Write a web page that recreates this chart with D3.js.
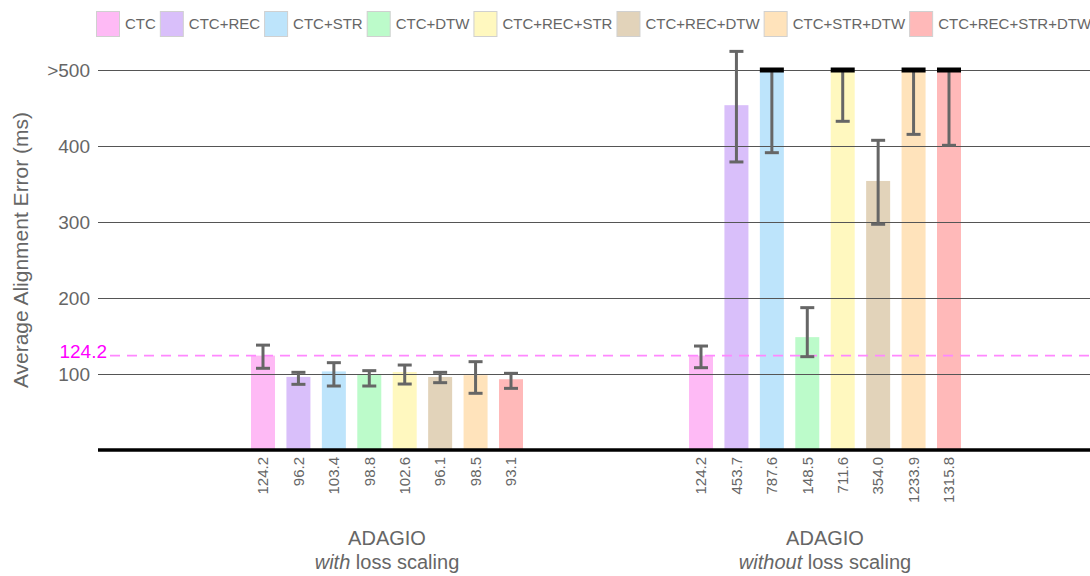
<!DOCTYPE html>
<html><head><meta charset="utf-8">
<script src="https://cdn.jsdelivr.net/npm/d3@7"></script>
<style>
html,body{margin:0;padding:0;background:#fff;}
svg{display:block;font-family:"Liberation Sans",Arial,sans-serif;}
</style></head>
<body><svg id="c" width="1090" height="576"></svg>
<script>
const methods = ["CTC","CTC+REC","CTC+STR","CTC+DTW","CTC+REC+STR","CTC+REC+DTW","CTC+STR+DTW","CTC+REC+STR+DTW"];
const colors = ["#FEBAF5","#D9BFFA","#BDE4FB","#BCFBCA","#FFF8BF","#E2D3BA","#FFE3BB","#FFB9B9"];
const groups = ["with","without"];
const groupTitle = ["ADAGIO","ADAGIO"];
const groupItalic = ["with","without"];
const groupRest = [" loss scaling"," loss scaling"];
const meansWith = [124.2, 96.2, 103.4, 98.8, 102.6, 96.1, 98.5, 93.1];
const lowWith   = [107.5, 86.4, 84.2, 84.2, 86.8, 88.6, 74.6, 81.1];
const highWith  = [138.0, 102.2, 114.9, 104.4, 111.8, 102.2, 116.2, 100.9];
const meansWithout = [124.2, 453.7, 787.6, 148.5, 711.6, 354.0, 1233.9, 1315.8];
const lowWithout   = [108.3, 379.0, 391.2, 122.8, 432.5, 297.0, 415.3, 400.9];
const highWithout  = [136.8, 524.5, 1184.0, 187.3, 990.7, 407.5, 2052.5, 2230.7];
const yTicks = [100, 200, 300, 400, 500];
const yTickLabels = ["100","200","300","400",">500"];
const refValue = 124.2;
const capValue = 500;

const svg = d3.select("#c");
const grey = "#666";
const left = 98, right = 1090;

const y = d3.scaleLinear().domain([0, 500]).range([450, 70]);
const xg = d3.scalePoint().domain(groups).range([387, 825]);
const xb = d3.scaleBand().domain(methods).range([-136, 136]).paddingInner(0.3226).paddingOuter(0);

const data = [];
groups.forEach((g, gi) => {
  const m = gi === 0 ? meansWith : meansWithout;
  const lo = gi === 0 ? lowWith : lowWithout;
  const hi = gi === 0 ? highWith : highWithout;
  methods.forEach((k, i) => data.push({g, k, i, mean: m[i], lo: lo[i], hi: hi[i]}));
});
const bx = d => xg(d.g) + xb(d.k);
const cx = d => bx(d) + xb.bandwidth() / 2;

// bars
svg.append("g").selectAll("rect").data(data).join("rect")
  .attr("x", bx).attr("width", xb.bandwidth())
  .attr("y", d => y(Math.min(d.mean, capValue)))
  .attr("height", d => y(0) - y(Math.min(d.mean, capValue)))
  .attr("fill", d => colors[d.i]);

// gridlines
svg.append("g").selectAll("line").data(yTicks).join("line")
  .attr("x1", left).attr("x2", right)
  .attr("y1", d => Math.round(y(d)) + 0.5).attr("y2", d => Math.round(y(d)) + 0.5)
  .attr("stroke", "#555").attr("stroke-width", 1);

// y tick labels
svg.append("g").selectAll("text").data(yTicks).join("text")
  .attr("x", 90).attr("y", d => y(d)).attr("dy", "0.35em")
  .attr("text-anchor", "end").attr("font-size", 19).attr("fill", grey)
  .text((d, i) => yTickLabels[i]);

// reference line
svg.append("line").attr("x1", 110).attr("x2", right)
  .attr("y1", y(refValue)).attr("y2", y(refValue))
  .attr("stroke", "#FF88FF").attr("stroke-width", 1.6).attr("stroke-dasharray", "10,7");
svg.append("text").attr("x", 107).attr("y", y(refValue)).attr("dy", "0.1em")
  .attr("text-anchor", "end").attr("font-size", 19).attr("fill", "#FF00FF")
  .text(refValue.toFixed(1));

// error bars
const eb = svg.append("g").attr("stroke", grey).attr("stroke-width", 3);
data.forEach(d => {
  const clipped = d.mean > capValue;
  const top = clipped ? Math.min(d.hi, capValue) : d.hi;
  const c = cx(d);
  eb.append("line").attr("x1", c).attr("x2", c).attr("y1", y(top)).attr("y2", y(d.lo));
  eb.append("line").attr("x1", c - 7).attr("x2", c + 7).attr("y1", y(d.lo)).attr("y2", y(d.lo));
  if (!clipped) eb.append("line").attr("x1", c - 7).attr("x2", c + 7).attr("y1", y(top)).attr("y2", y(top));
});

// black caps for clipped bars
svg.append("g").selectAll("rect").data(data.filter(d => d.mean > capValue)).join("rect")
  .attr("x", bx).attr("width", xb.bandwidth())
  .attr("y", y(capValue) - 2.5).attr("height", 5).attr("fill", "#000");

// baseline
svg.append("line").attr("x1", left).attr("x2", right).attr("y1", y(0)).attr("y2", y(0))
  .attr("stroke", "#000").attr("stroke-width", 3.5);

// value labels (rotated)
svg.append("g").selectAll("text").data(data).join("text")
  .attr("transform", d => `translate(${cx(d)},457) rotate(-90)`)
  .attr("dy", "0.35em").attr("text-anchor", "end")
  .attr("font-size", 15).attr("fill", grey)
  .text(d => d.mean.toFixed(1));

// group labels
groups.forEach((g, gi) => {
  svg.append("text").attr("x", xg(g)).attr("y", 545).attr("text-anchor", "middle")
    .attr("font-size", 20).attr("fill", grey).text(groupTitle[gi]);
  const t = svg.append("text").attr("x", xg(g)).attr("y", 569).attr("text-anchor", "middle")
    .attr("font-size", 20).attr("fill", grey);
  t.append("tspan").attr("font-style", "italic").text(groupItalic[gi]);
  t.append("tspan").text(groupRest[gi]);
});

// y axis title
svg.append("text").attr("transform", "translate(21,250) rotate(-90)")
  .attr("dy", "0.35em").attr("text-anchor", "middle")
  .attr("font-size", 21).attr("fill", grey).text("Average Alignment Error (ms)");

// legend
const lg = svg.append("g");
let lx = 96;
methods.forEach((k, i) => {
  lg.append("rect").attr("x", lx + 0.5).attr("y", 11.5).attr("width", 23).attr("height", 25)
    .attr("fill", colors[i]).attr("stroke", "#d0d0d0").attr("stroke-width", 1);
  const t = lg.append("text").attr("x", lx + 29).attr("y", 24).attr("dy", "0.35em")
    .attr("font-size", 15).attr("fill", grey).text(k);
  lx = lx + 29 + t.node().getComputedTextLength() + 4;
});
</script></body></html>
